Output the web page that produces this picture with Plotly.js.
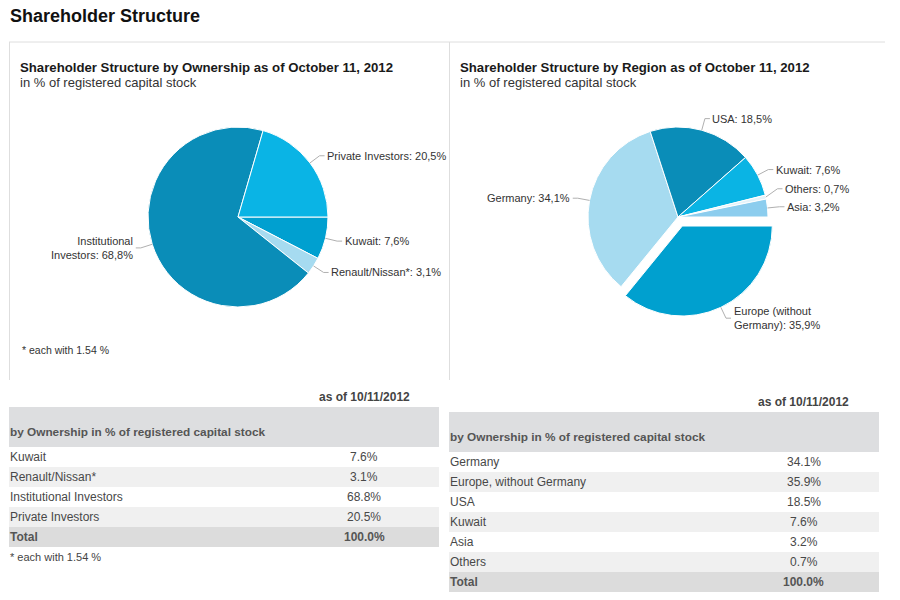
<!DOCTYPE html>
<html><head><meta charset="utf-8">
<script src="https://cdn.plot.ly/plotly-3.0.1.min.js"></script>
<style>body{margin:0;background:#fff}#chart{width:900px;height:600px}</style>
</head><body><div id="chart"></div>
<script>
// ---------- DATA ----------
const mainTitle = 'Shareholder Structure';
const ownershipTitle = 'Shareholder Structure by Ownership as of October 11, 2012';
const regionTitle = 'Shareholder Structure by Region as of October 11, 2012';
const subTitle = 'in % of registered capital stock';
const footnote = '* each with 1.54 %';
const asOfLabel = 'as of 10/11/2012';
const tableHeader = 'by Ownership in % of registered capital stock';
const totalLabel = 'Total';

// Ownership (pie drawn clockwise from 3 o'clock in this order; table uses same order)
const ownershipLabels = ['Kuwait', 'Renault/Nissan*', 'Institutional Investors', 'Private Investors'];
const ownershipPieLabels = ['Kuwait', 'Renault/Nissan*', 'Institutional<br>Investors', 'Private Investors'];
const ownershipValues = [7.6, 3.1, 68.8, 20.5];
const ownershipTotal = 100.0;
const ownershipColors = ['#00a0d0', '#a6dbf0', '#0a8db8', '#0ab4e5'];
const ownershipPull = [0, 0, 0, 0];

// Region pie (clockwise from 3 o'clock)
const regionPieLabels = ['Europe (without<br>Germany)', 'Germany', 'USA', 'Kuwait', 'Others', 'Asia'];
const regionPieValues = [35.9, 34.1, 18.5, 7.6, 0.7, 3.2];
const regionColors = ['#00a0cf', '#a6dbf0', '#0a8db8', '#0ab4e4', '#e4f3fa', '#8ccdee'];
const regionPull = [0.111, 0, 0, 0, 0, 0];

// Region table
const regionTableLabels = ['Germany', 'Europe, without Germany', 'USA', 'Kuwait', 'Asia', 'Others'];
const regionTableValues = [34.1, 35.9, 18.5, 7.6, 3.2, 0.7];
const regionTotal = 100.0;

// ---------- LAYOUT HELPERS ----------
const W = 900, H = 600;
const X = p => p / W, Y = p => 1 - p / H;
const FONT = "Arial, 'Liberation Sans', sans-serif";
const shapes = [], annotations = [];
function text(x, y, t, o = {}) {
  annotations.push({xref: 'paper', yref: 'paper', x: X(x), y: Y(y), text: t, showarrow: false,
    xanchor: o.xanchor || 'left', yanchor: 'middle', align: o.align || 'left', borderpad: 0,
    font: {family: FONT, size: o.size || 12, color: o.color || '#333333'}});
}
function rect(x0, y0, x1, y1, fill) {
  shapes.push({type: 'rect', xref: 'paper', yref: 'paper', x0: X(x0), x1: X(x1), y0: Y(y0), y1: Y(y1),
    fillcolor: fill, line: {width: 0}, layer: 'below'});
}
function seg(x0, y0, x1, y1, color, w) {
  shapes.push({type: 'line', xref: 'paper', yref: 'paper', x0: X(x0), x1: X(x1), y0: Y(y0), y1: Y(y1),
    line: {color: color, width: w || 1}});
}
const comma = v => v.toFixed(1).replace('.', ',');

// ---------- PIES ----------
function pieTrace(labels, values, colors, pulls, cx, cy, r) {
  const half = r * (1 + Math.max(...pulls));
  return {type: 'pie', labels: labels.map(l => l.replace('<br>', ' ')), values: values, sort: false,
    direction: 'clockwise', rotation: 90, pull: pulls, textinfo: 'none', hoverinfo: 'label+value',
    marker: {colors: colors, line: {color: '#ffffff', width: 1}}, showlegend: false,
    domain: {x: [X(cx - half), X(cx + half)], y: [Y(cy + half), Y(cy - half)]}};
}
function pieLabels(labels, values, pulls, cx, cy, r) {
  const total = values.reduce((a, b) => a + b, 0);
  const D = 12, GAP = 18;
  let ang = 90;
  const items = values.map((v, i) => {
    const span = v / total * 360, mid = ang + span / 2; ang += span;
    const rad = mid * Math.PI / 180, s = Math.sin(rad), c = Math.cos(rad);
    const ox = cx + pulls[i] * r * s, oy = cy - pulls[i] * r * c;
    return {edge: [ox + r * s, oy - r * c], ax: ox + (r + D) * s, y: oy - (r + D) * c,
      right: s >= 0, text: labels[i] + ': ' + comma(v) + '%'};
  });
  [true, false].forEach(side => {
    const list = items.filter(it => it.right === side).sort((a, b) => b.y - a.y);
    for (let k = 1; k < list.length; k++) if (list[k].y > list[k - 1].y - GAP) list[k].y = list[k - 1].y - GAP;
  });
  items.forEach(it => {
    const dir = it.right ? 1 : -1;
    seg(it.edge[0], it.edge[1], it.ax, it.y, '#b0b0b0', 1);
    seg(it.ax, it.y, it.ax + 5 * dir, it.y, '#b0b0b0', 1);
    text(it.ax + 6.5 * dir, it.y, it.text, {size: 11, xanchor: it.right ? 'left' : 'right',
      align: it.right ? 'left' : 'right', color: '#333333'});
  });
}

const P1 = {cx: 238, cy: 217, r: 90}, P2 = {cx: 678, cy: 217, r: 90};
const traces = [
  pieTrace(ownershipPieLabels, ownershipValues, ownershipColors, ownershipPull, P1.cx, P1.cy, P1.r),
  pieTrace(regionPieLabels, regionPieValues, regionColors, regionPull, P2.cx, P2.cy, P2.r)
];
pieLabels(ownershipPieLabels, ownershipValues, ownershipPull, P1.cx, P1.cy, P1.r);
pieLabels(regionPieLabels, regionPieValues, regionPull, P2.cx, P2.cy, P2.r);

// ---------- TITLES / PANELS ----------
text(9, 16, '<b>' + mainTitle + '</b>', {size: 18, color: '#111111'});
seg(9, 42, 885, 42, '#dedede', 1);
seg(9.5, 42, 9.5, 380, '#dedede', 1);
seg(449.5, 42, 449.5, 380, '#dedede', 1);
text(19, 67, '<b>' + ownershipTitle + '</b>', {size: 13.2, color: '#1a1a1a'});
text(19, 83, subTitle, {size: 13, color: '#333333'});
text(459, 67, '<b>' + regionTitle + '</b>', {size: 13.2, color: '#1a1a1a'});
text(459, 83, subTitle, {size: 13, color: '#333333'});
text(21, 350, footnote, {size: 10.5, color: '#333333'});

// ---------- TABLES ----------
function table(x0, x1, vc, bandTop, labels, values, total) {
  text(vc, bandTop - 10, '<b>' + asOfLabel + '</b>', {size: 12, xanchor: 'center', color: '#444444'});
  rect(x0, bandTop, x1, bandTop + 40, '#dddee0');
  text(x0, bandTop + 25, '<b>' + tableHeader + '</b>', {size: 11.8, color: '#555555'});
  const RH = 20;
  let y = bandTop + 40;
  labels.forEach((l, i) => {
    if (i % 2 === 1) rect(x0, y, x1, y + RH, '#f0f0f0');
    text(x0, y + 9.5, l, {size: 12, color: '#484848'});
    text(vc, y + 9.5, values[i].toFixed(1) + '%', {size: 12, xanchor: 'center', color: '#484848'});
    y += RH;
  });
  rect(x0, y, x1, y + RH, '#dcdcdc');
  text(x0, y + 9.5, '<b>' + totalLabel + '</b>', {size: 12, color: '#555555'});
  text(vc, y + 9.5, '<b>' + total.toFixed(1) + '%</b>', {size: 12, xanchor: 'center', color: '#555555'});
  return y + RH;
}
const bottomLeft = table(9, 439, 364, 407, ownershipLabels, ownershipValues, ownershipTotal);
text(9, bottomLeft + 10, footnote, {size: 11, color: '#444444'});
table(449, 879, 803.5, 412, regionTableLabels, regionTableValues, regionTotal);

Plotly.newPlot('chart', traces, {
  width: W, height: H, margin: {l: 0, r: 0, t: 0, b: 0},
  paper_bgcolor: '#ffffff', plot_bgcolor: '#ffffff', showlegend: false,
  font: {family: FONT}, shapes: shapes, annotations: annotations
}, {displayModeBar: false, staticPlot: false});
</script></body></html>
